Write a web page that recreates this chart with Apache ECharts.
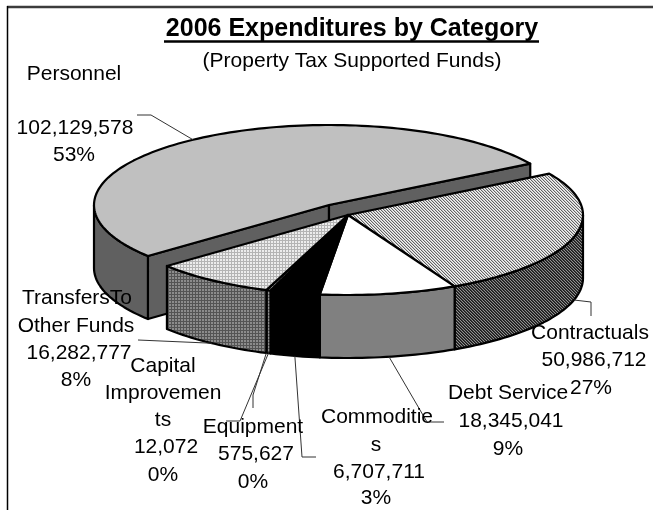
<!DOCTYPE html>
<html>
<head>
<meta charset="utf-8">
<style>html,body{margin:0;padding:0;background:#fff}#chart{width:653px;height:510px}</style>
<script src="https://cdn.jsdelivr.net/npm/echarts@6/dist/echarts.min.js"></script>
</head>
<body>
<div id="chart"></div>
<script>
// Spending per category, in dollars, in drawing order round the pie (clockwise).
const categories = ['Personnel', 'Contractuals', 'Debt Service', 'Commodities', 'Equipment', 'Capital Improvements', 'TransfersTo Other Funds'];
const amounts = [102129578, 50986712, 18345041, 6707711, 575627, 12072, 16282777];
const percentLabels = ['53%', '27%', '9%', '3%', '0%', '0%', '8%'];
const nameLines = [['Personnel'], ['Contractuals'], ['Debt Service'], ['Commoditie', 's'], ['Equipment'], ['Capital', 'Improvemen', 'ts'], ['TransfersTo', 'Other Funds']];

const FONT = '"Liberation Sans", Arial, sans-serif';

// Tilted pie geometry
const RX = 235, RY = 80, DEPTH = 63, START_ANGLE = 219.6;
const CENTER = { x: 348, y: 215 };
const EXPLODED_CENTER = { x: 329, y: 205 };

// Label placement per category: centre x and y of each text line, and the leader bends.
const labelLayout = [
  { lines: [[74, 74], [75, 128], [74, 155]], bends: [[151, 115], [137, 115]] },
  { lines: [[590, 333], [594, 360], [591, 388]], bends: [[591, 302], [591, 316]] },
  { lines: [[508, 393], [511, 421], [508, 449]], bends: [[427, 422], [444, 422]] },
  { lines: [[377, 417], [376, 445], [379, 472], [376, 498]], bends: [[302, 457], [316, 457]] },
  { lines: [[253, 427], [256, 454], [253, 482]], bends: [[240, 421], [226, 421]] },
  { lines: [[163, 366], [163, 393], [163, 420], [166, 447], [163, 475]], bends: [[253, 395], [253, 408]] },
  { lines: [[77, 298], [76, 326], [79, 353], [76, 380]], bends: [[138, 340]] }
];

// Small tiled fills for the hatched and dotted slices.
function tile(size, paint) {
  const c = document.createElement('canvas');
  c.width = c.height = size;
  const g = c.getContext('2d');
  for (let y = 0; y < size; y++) {
    for (let x = 0; x < size; x++) {
      g.fillStyle = paint(x, y);
      g.fillRect(x, y, 1, 1);
    }
  }
  return { image: c, repeat: 'repeat' };
}
const mod3 = (n) => ((n % 3) + 3) % 3;
const hatchLight = tile(3, (x, y) => ['#646464', '#c8c8c8', '#f4f4f4'][mod3(x - y)]);
const hatchDark = tile(3, (x, y) => ['#1a1a1a', '#3a3a3a', '#909090'][mod3(x - y)]);
const dotLight = tile(3, (x, y) => (x === 0 || y === 0 ? '#b4b4b4' : '#ececec'));
const dotDark = tile(3, (x, y) => (x === 0 || y === 0 ? '#545454' : '#8c8c8c'));

const faceFills = ['#c0c0c0', hatchLight, '#ffffff', '#000000', dotDark, '#808080', dotLight];
const wallFills = ['#606060', hatchDark, '#808080', '#000000', dotDark, '#808080', dotDark];

// Cumulative value mapped onto clockwise angles.
const total = amounts.reduce((a, b) => a + b, 0);
const angleOf = (v) => echarts.number.linearMap(v, [0, total], [START_ANGLE, START_ANGLE - 360]);
const sliceRanges = [];
amounts.reduce((acc, v) => {
  sliceRanges.push([angleOf(acc), angleOf(acc + v)]);
  return acc + v;
}, 0);

const rad = (d) => d * Math.PI / 180;
const rimPoint = (c, deg, drop) => [c.x + RX * Math.cos(rad(deg)), c.y - RY * Math.sin(rad(deg)) + (drop || 0)];

function arc(c, from, to, drop) {
  const n = Math.max(2, Math.ceil(Math.abs(from - to) / 1.5));
  const pts = [];
  for (let i = 0; i <= n; i++) pts.push(rimPoint(c, from + (to - from) * i / n, drop));
  return pts;
}

// Parts of a slice's rim that face the viewer (the lower half of the ellipse).
function frontRanges(hi, lo) {
  const out = [];
  [[0, -180], [360, 180], [-360, -540]].forEach(([a, b]) => {
    const h = Math.min(hi, a), l = Math.max(lo, b);
    if (h > l) out.push([h, l]);
  });
  return out;
}

const outline = { stroke: '#000', lineWidth: 2.2, lineJoin: 'round' };

function renderSlice(params) {
  const i = params.dataIndex;
  const [hi, lo] = sliceRanges[i];
  const exploded = i === 0;
  const c = exploded ? EXPLODED_CENTER : CENTER;
  const wall = wallFills[i];
  const children = [];
  const addWall = (pts) => children.push({
    type: 'polygon', shape: { points: pts }, style: Object.assign({ fill: wall }, outline)
  });

  if (exploded) {
    // Cut faces exposed by pulling this slice out of the pie.
    [hi, lo].forEach((deg) => {
      const p = rimPoint(c, deg);
      addWall([[c.x, c.y], p, [p[0], p[1] + DEPTH], [c.x, c.y + DEPTH]]);
    });
  }
  frontRanges(hi, lo).forEach(([h, l]) => {
    addWall(arc(c, h, l, 0).concat(arc(c, l, h, DEPTH)));
  });
  children.push({
    type: 'polygon',
    shape: { points: [[c.x, c.y]].concat(arc(c, hi, lo, 0)) },
    style: Object.assign({ fill: faceFills[i] }, outline)
  });
  return { type: 'group', children };
}

// Leaders start on the slice's rim at its middle angle.
function leaderStart(i) {
  const mid = (sliceRanges[i][0] + sliceRanges[i][1]) / 2;
  const c = i === 0 ? EXPLODED_CENTER : CENTER;
  const front = Math.sin(rad(mid)) < 0;
  return rimPoint(c, mid, front ? DEPTH : 0);
}

function renderLabel(params) {
  const i = params.dataIndex;
  const layout = labelLayout[i];
  const texts = nameLines[i].concat([amounts[i].toLocaleString('en-US'), percentLabels[i]]);
  const children = [{
    type: 'polyline',
    shape: { points: [leaderStart(i)].concat(layout.bends) },
    style: { fill: 'none', stroke: '#333', lineWidth: 1 }
  }];
  texts.forEach((t, k) => children.push({
    type: 'text',
    x: layout.lines[k][0],
    y: layout.lines[k][1],
    style: { text: t, fill: '#000', font: '21px ' + FONT, align: 'center', verticalAlign: 'middle' }
  }));
  return { type: 'group', children };
}

const chart = echarts.init(document.getElementById('chart'), null, { renderer: 'canvas' });
chart.setOption({
  animation: false,
  backgroundColor: '#fff',
  title: {
    text: '2006 Expenditures by Category',
    subtext: '(Property Tax Supported Funds)',
    left: 352, top: 17, textAlign: 'center', itemGap: 9, padding: 0,
    textStyle: { fontFamily: FONT, fontWeight: 'bold', fontSize: 25, color: '#000' },
    subtextStyle: { fontFamily: FONT, fontSize: 21, color: '#000' }
  },
  graphic: [
    { type: 'line', shape: { x1: 7, y1: 7, x2: 653, y2: 7 }, style: { stroke: '#3c3c3c', lineWidth: 2.5 } },
    { type: 'line', shape: { x1: 7.5, y1: 6, x2: 7.5, y2: 510 }, style: { stroke: '#000', lineWidth: 1.5 } },
    { type: 'line', shape: { x1: 164, y1: 41.5, x2: 539, y2: 41.5 }, style: { stroke: '#000', lineWidth: 2.5 } }
  ],
  series: [
    {
      type: 'custom', coordinateSystem: 'none', renderItem: renderSlice, z: 2, silent: true,
      data: categories.map((name, i) => ({ name, value: amounts[i] }))
    },
    {
      type: 'custom', coordinateSystem: 'none', renderItem: renderLabel, z: 3, silent: true,
      data: categories.map((name, i) => ({ name, value: amounts[i] }))
    }
  ]
});
</script>
</body>
</html>
